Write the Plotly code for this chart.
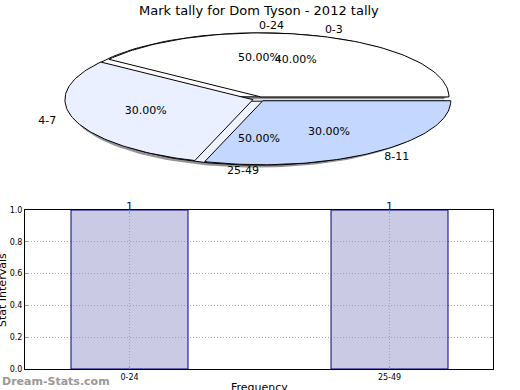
import numpy as np
import plotly.graph_objects as go

W, H = 520, 390

# ---------------- data ----------------
title_text = "Mark tally for Dom Tyson - 2012 tally"
pie1_labels = ["0-3", "4-7", "8-11"]
pie1_values = [40, 30, 30]
pie1_colors = ["#ffffff", "#eaf0ff", "#c4d8ff"]
pie2_labels = ["0-24", "25-49"]
pie2_values = [50, 50]
pie2_colors = ["#ffffff", "#eef3ff"]

bar_categories = ["0-24", "25-49"]
bar_values = [1, 1]
y_ticks = [0.0, 0.2, 0.4, 0.6, 0.8, 1.0]

# ---------------- pie geometry (ellipse via unequal axis scales) ----------------
cx_px, cy_px, rx_px, ry_px = 259, 99, 188, 64
explode = 0.034
x2_range = [-cx_px / rx_px, (W - cx_px) / rx_px]
y2_range = [-(H - cy_px) / ry_px, cy_px / ry_px]

fig = go.Figure()


def wedge(a0, a1, shift, n=80):
    t = np.linspace(a0, a1, n)
    xs = np.concatenate([[0], np.cos(t), [0]]) + shift[0]
    ys = np.concatenate([[0], np.sin(t), [0]]) + shift[1]
    return xs, ys


def pie_angles(values):
    tot = sum(values)
    fr = np.array(values) / tot
    ends = np.cumsum(fr) * 2 * np.pi
    starts = ends - fr * 2 * np.pi
    return fr, starts, ends


def shift_of(a0, a1):
    mid = (a0 + a1) / 2
    return (explode * np.cos(mid), explode * np.sin(mid))


# pie 2 (underneath), with shadow
fr2, s2, e2 = pie_angles(pie2_values)
sdx, sdy = -2.5 / rx_px, -2.5 / ry_px
for a0, a1 in zip(s2, e2):
    sh = shift_of(a0, a1)
    xs, ys = wedge(a0, a1, (sh[0] + sdx, sh[1] + sdy))
    fig.add_trace(go.Scatter(x=xs, y=ys, xaxis="x2", yaxis="y2", mode="lines",
                             fill="toself", fillcolor="rgba(60,60,60,0.55)",
                             line=dict(width=0), hoverinfo="skip", showlegend=False))
for a0, a1, c in zip(s2, e2, pie2_colors):
    xs, ys = wedge(a0, a1, shift_of(a0, a1))
    fig.add_trace(go.Scatter(x=xs, y=ys, xaxis="x2", yaxis="y2", mode="lines",
                             fill="toself", fillcolor=c,
                             line=dict(width=1, color="black"), hoverinfo="skip", showlegend=False))

# pie 1 (exploded) on top
fr1, s1, e1 = pie_angles(pie1_values)
for a0, a1, c in zip(s1, e1, pie1_colors):
    xs, ys = wedge(a0, a1, shift_of(a0, a1))
    fig.add_trace(go.Scatter(x=xs, y=ys, xaxis="x2", yaxis="y2", mode="lines",
                             fill="toself", fillcolor=c,
                             line=dict(width=1, color="black"), hoverinfo="skip", showlegend=False))

# labels
lab_font = dict(family="DejaVu Sans", size=11, color="black")
def add_pie_text(labels, fr, starts, ends, expl):
    for lab, f, a0, a1 in zip(labels, fr, starts, ends):
        mid = (a0 + a1) / 2
        c, s = np.cos(mid), np.sin(mid)
        lx, ly = (1.1 + expl) * c, (1.1 + expl) * s
        pos = "middle right" if c > 0 else "middle left"
        fig.add_trace(go.Scatter(x=[lx], y=[ly], xaxis="x2", yaxis="y2", mode="text",
                                 text=[lab], textposition=pos, textfont=lab_font,
                                 hoverinfo="skip", showlegend=False))
        px, py = (0.6 + expl) * c, (0.6 + expl) * s
        fig.add_trace(go.Scatter(x=[px], y=[py], xaxis="x2", yaxis="y2", mode="text",
                                 text=["%.2f%%" % (f * 100)], textposition="middle center",
                                 textfont=lab_font, hoverinfo="skip", showlegend=False))

add_pie_text(pie2_labels, fr2, s2, e2, explode)
add_pie_text(pie1_labels, fr1, s1, e1, explode)

# ---------------- bar chart ----------------
x_pos = list(range(len(bar_categories)))
fig.add_trace(go.Bar(x=x_pos, y=bar_values, width=0.45,
                     marker=dict(color="rgba(150,150,204,0.5)",
                                 line=dict(color="#000080", width=1)),
                     hoverinfo="skip", showlegend=False))

bar_annots = [dict(text=str(v), x=xp, y=v, xref="x", yref="y",
                   xanchor="center", yanchor="bottom", yshift=-5, showarrow=False,
                   font=dict(family="DejaVu Sans", size=11, color="#000080"))
              for xp, v in zip(x_pos, bar_values)]

xl = (25 - 129.5) / 260
xr = (493 - 129.5) / 260
grid = dict(showgrid=True, gridcolor="#aaaaaa", griddash="1px,2px", gridwidth=1,
            showline=True, linecolor="black", linewidth=1, mirror="ticks",
            ticks="inside", ticklen=3, tickcolor="#999999", zeroline=False,
            automargin=False)
fig.update_layout(
    template="none",
    width=W, height=H,
    margin=dict(l=0, r=0, t=0, b=0, pad=0, autoexpand=False),
    paper_bgcolor="white", plot_bgcolor="rgba(0,0,0,0)",
    showlegend=False,
    xaxis=dict(domain=[25 / W, 493 / W], range=[xl, xr],
               tickvals=x_pos, ticktext=bar_categories,
               tickfont=dict(family="DejaVu Sans", size=8, color="black"), **grid),
    yaxis=dict(domain=[1 - 369 / H, 1 - 210 / H], range=[0, 1.0],
               tickvals=y_ticks, ticktext=["%.1f" % v for v in y_ticks],
               tickfont=dict(family="DejaVu Sans", size=8, color="black"), **grid),
    xaxis2=dict(domain=[0, 1], range=x2_range, visible=False, anchor="y2", automargin=False),
    yaxis2=dict(domain=[0, 1], range=y2_range, visible=False, anchor="x2", automargin=False),
    annotations=bar_annots + [
        dict(text=title_text, x=259 / W, y=1 - 10 / H, xref="paper", yref="paper",
             xanchor="center", yanchor="middle", showarrow=False,
             font=dict(family="DejaVu Sans", size=13, color="black")),
        dict(text="Stat Intervals", x=2 / W, y=1 - 290 / H, xref="paper", yref="paper",
             xanchor="center", yanchor="middle", textangle=-90, showarrow=False,
             font=dict(family="DejaVu Sans", size=11, color="black")),
        dict(text="Frequency", x=259 / W, y=1 - 379 / H, xref="paper", yref="paper",
             xanchor="center", yanchor="top", showarrow=False,
             font=dict(family="DejaVu Sans", size=11, color="black")),
        dict(text="<b>Dream-Stats.com</b>", x=0, y=1 - 381 / H, xref="paper", yref="paper",
             xanchor="left", yanchor="middle", showarrow=False,
             font=dict(family="DejaVu Sans", size=11, color="#999999")),
    ],
)

fig.write_html("out.html", config={"displayModeBar": False},
               post_script="document.body.style.margin='0px';document.body.style.padding='0px';")
